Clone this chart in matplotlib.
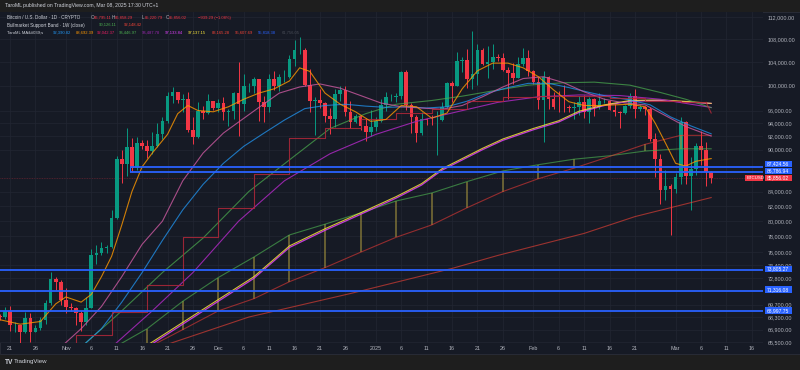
import numpy as np
import pandas as pd
import matplotlib
matplotlib.use("Agg")
import matplotlib.pyplot as plt
import matplotlib.dates as mdates
from matplotlib.patches import Rectangle
from matplotlib.ticker import FixedLocator, NullLocator, FuncFormatter

plt.rcParams['font.family'] = ['Liberation Sans', 'DejaVu Sans']

# daily BTCUSD candles, Oct 19 2024 .. Mar 08 2025 (values in thousands USD)
start = pd.Timestamp("2024-10-19")
dates = pd.date_range(start, "2025-03-08", freq="D")

opens = [68.39, 68.36, 69.00, 67.37, 67.38, 66.68, 68.17, 66.63, 67.03, 67.95, 69.90, 72.72, 72.34,
         70.29, 69.49, 69.37, 68.75, 67.80, 69.36, 75.60, 75.90, 76.54, 76.68, 80.37, 88.70, 87.95, 90.40,
         87.30, 91.06, 90.60, 89.85, 90.50, 92.30, 94.30, 98.38, 98.90, 97.75, 97.90, 93.00, 91.95, 95.95,
         95.65, 97.46,
         96.40, 97.20, 95.84, 96.00, 98.75, 97.00, 99.90, 99.90, 101.17, 97.40, 96.60, 101.15, 100.00,
         101.40, 101.40, 104.45, 106.05, 106.14, 100.20, 97.46, 97.75, 97.20, 95.10, 94.70, 98.70, 99.30,
         95.80, 94.27, 95.16, 93.53, 92.60,
         93.43, 94.40, 96.90, 98.14, 98.20, 98.36, 102.24, 96.95, 95.04, 92.50, 94.70, 94.56, 94.50, 94.50,
         96.50, 100.50, 99.98, 104.10, 104.40, 101.10, 102.00, 106.15, 103.65, 104.00, 104.80, 104.70,
         102.60, 102.10, 101.30, 103.70, 104.70,
         102.40, 100.65, 97.69, 101.40, 97.87, 96.60, 96.55, 96.50, 96.45, 96.50, 97.40, 95.75, 97.87,
         96.60, 97.50, 97.57, 96.12, 95.77, 95.54, 96.65, 98.33, 96.20, 96.55, 96.26, 91.55, 88.70, 84.25,
         84.70,
         84.35, 86.05, 94.27, 86.12, 87.20, 90.60, 89.96, 86.795]
highs = [68.67, 69.40, 69.50, 67.80, 67.45, 68.85, 68.80, 67.45, 68.35, 70.20, 73.60, 72.95, 72.65,
         71.60, 69.90, 69.40, 69.00, 70.55, 76.40, 76.95, 77.25, 76.90, 81.50, 89.00, 89.95, 93.25, 91.80,
         91.85, 91.50, 91.50, 92.65, 94.00, 94.95, 99.00, 99.80, 99.00, 98.70, 98.90, 94.95, 97.30, 96.65,
         98.70, 97.50,
         97.85, 98.15, 96.30, 99.00, 104.00, 101.90, 100.50, 101.40, 101.20, 98.30, 101.90, 102.50, 101.90,
         102.60, 105.20, 107.80, 108.30, 106.50, 102.80, 98.10, 99.50, 97.40, 96.40, 99.40, 99.95, 99.90,
         97.50, 95.50, 95.20, 94.90, 96.10,
         94.95, 97.80, 98.95, 98.70, 98.80, 102.50, 102.70, 97.20, 95.35, 95.80, 94.90, 95.35, 95.90, 97.35,
         100.70, 100.85, 105.80, 104.90, 106.30, 109.40, 107.10, 106.40, 106.85, 107.10, 105.30, 105.50,
         103.20, 103.80, 104.80, 106.45, 106.10,
         102.70, 101.50, 102.50, 101.70, 99.00, 99.20, 100.10, 96.90, 97.30, 98.30, 98.50, 98.10, 98.00,
         98.80, 97.95, 97.70, 97.00, 96.00, 96.90, 98.75, 99.50, 96.90, 96.65, 96.50, 92.50, 89.30, 87.00,
         85.10,
         86.55, 95.00, 94.40, 88.90, 91.00, 92.80, 91.20, 86.858]
lows = [68.00, 68.10, 66.80, 66.60, 65.25, 66.56, 65.55, 66.60, 66.90, 67.50, 69.70, 71.45, 69.70,
        68.80, 68.95, 67.45, 66.80, 67.45, 69.30, 74.50, 75.60, 75.85, 76.50, 80.25, 85.20, 86.20, 86.70,
        87.10, 90.10, 88.80, 89.30, 90.40, 91.60, 94.10, 97.20, 97.25, 95.80, 92.60, 90.80, 91.75, 94.65,
        95.40, 96.10,
        95.70, 94.50, 93.60, 94.70, 92.00, 95.90, 98.90, 98.80, 94.30, 94.25, 95.70, 99.30, 99.20,
        100.70, 101.25, 103.30, 105.30, 100.00, 95.70, 92.20, 96.40, 94.20, 92.40, 93.40, 97.60, 95.20,
        93.30, 94.10, 93.00, 91.30, 92.00,
        92.80, 94.20, 96.00, 97.50, 97.30, 97.90, 96.15, 92.50, 91.20, 92.20, 93.80, 93.70, 89.25, 94.30,
        96.45, 97.30, 99.90, 102.30, 99.60, 99.50, 100.10, 103.40, 101.25, 102.80, 104.15, 102.50,
        97.80, 100.30, 101.30, 103.30, 101.60,
        100.30, 96.20, 91.20, 96.20, 96.20, 95.70, 95.70, 95.70, 94.70, 95.30, 94.90, 94.10, 95.20,
        96.30, 97.25, 96.05, 95.20, 93.35, 95.40, 96.40, 94.85, 96.00, 95.25, 91.30, 86.05, 82.25, 82.80,
        78.25,
        83.80, 85.10, 85.10, 81.50, 86.30, 87.80, 84.70, 85.221]
closes = [68.36, 69.00, 67.37, 67.38, 66.68, 68.17, 66.63, 67.03, 67.95, 69.90, 72.72, 72.34, 70.29,
          69.49, 69.37, 68.75, 67.80, 69.36, 75.60, 75.90, 76.54, 76.68, 80.37, 88.70, 87.95, 90.40, 87.30,
          91.06, 90.60, 89.85, 90.50, 92.30, 94.30, 98.38, 98.90, 97.75, 97.90, 93.00, 91.95, 95.95, 95.65,
          97.46, 96.40,
          97.20, 95.84, 96.00, 98.75, 97.00, 99.90, 99.92, 101.17, 97.40, 96.60, 101.15, 100.00, 101.40,
          101.42, 104.45, 106.05, 106.14, 100.20, 97.46, 97.75, 97.20, 95.10, 94.70, 98.70, 99.30, 95.80,
          94.27, 95.16, 93.53, 92.60, 93.43,
          94.40, 96.90, 98.14, 98.20, 98.36, 102.24, 96.95, 95.04, 92.50, 94.70, 94.56, 94.50, 94.52,
          96.50, 100.50, 99.98, 104.10, 104.40, 101.10, 102.00, 106.15, 103.65, 104.00, 104.80, 104.70,
          102.60, 102.10, 101.30, 103.70, 104.70, 102.40,
          100.65, 97.69, 101.40, 97.87, 96.60, 96.55, 96.50, 96.45, 96.50, 97.40, 95.75, 97.87, 96.60,
          97.50, 97.57, 96.12, 95.77, 95.54, 96.65, 98.33, 96.20, 96.55, 96.26, 91.55, 88.70, 84.25, 84.70,
          84.35,
          86.05, 94.27, 86.12, 87.20, 90.60, 89.96, 86.75, 85.856]

# moving averages (day offset from Oct 19, value)
orange_day = [0, 4, 8, 11, 13, 16, 18, 20, 22, 24, 26, 28, 30, 33, 35, 37, 39, 42, 45, 48, 51, 54, 57,
              59, 61, 64, 67, 70, 73, 76, 79, 82, 85, 88, 91, 94, 97, 100, 103, 106, 109, 112, 115, 118,
              121, 124, 127, 129, 131, 133, 135, 137, 140]
orange_val = [68.0, 67.5, 67.8, 69.8, 70.6, 70.0, 70.9, 73.0, 75.5, 79.5, 84.0, 87.5, 89.5, 92.3, 95.5,
              96.8, 96.0, 95.8, 96.6, 97.8, 98.8, 99.5, 100.8, 103.0, 102.4, 98.8, 97.0, 95.8, 94.3, 94.6,
              96.8, 96.6, 94.8, 95.6, 99.5, 102.5, 103.8, 103.8, 103.0, 101.5, 99.3, 97.4, 96.8, 96.8,
              96.9, 97.0, 96.6, 94.0, 91.0, 88.0, 87.6, 88.3, 88.69]
pink_day = [12, 16, 20, 24, 28, 32, 36, 40, 44, 47, 51, 55, 59, 63, 67, 71, 75, 79, 83, 87, 91, 95, 99,
            103, 107, 111, 115, 119, 123, 127, 131, 135, 140]
pink_val = [65.0, 67.0, 69.5, 73.0, 77.0, 80.0, 85.5, 89.5, 92.5, 94.2, 96.5, 98.8, 99.8, 100.3, 99.6,
            98.4, 97.2, 96.6, 96.4, 96.2, 96.8, 98.2, 99.8, 101.2, 101.5, 100.5, 99.0, 97.8, 97.2, 96.9,
            95.2, 93.5, 92.04]
blue_day = [16, 20, 24, 28, 32, 36, 40, 44, 48, 52, 56, 60, 64, 68, 72, 76, 80, 84, 88, 92, 96, 100,
            104, 108, 112, 116, 120, 124, 128, 132, 136, 140]
blue_val = [65.0, 67.0, 70.0, 73.5, 77.5, 81.5, 85.0, 88.0, 90.5, 92.5, 94.5, 96.3, 96.8, 97.0, 96.7,
            96.5, 96.6, 96.4, 96.6, 97.5, 98.8, 99.7, 100.4, 100.4, 99.7, 98.9, 98.2, 97.7, 96.9, 95.0,
            93.6, 92.39]
green_day = [16, 24, 32, 40, 44, 49, 57, 65, 72, 78, 85, 91, 98, 104, 111, 117, 124, 130, 135, 140]
green_val = [65.0, 69.0, 73.5, 77.8, 80.5, 84.0, 88.5, 93.2, 95.5, 97.0, 97.6, 98.3, 99.3, 100.1, 100.5,
             100.6, 100.1, 98.9, 97.8, 96.45]
purple_day = [22, 30, 38, 47, 56, 65, 74, 82, 90, 98, 106, 114, 122, 130, 136, 140]
purple_val = [65.0, 69.0, 73.5, 80.0, 85.5, 89.4, 92.3, 94.3, 95.8, 97.3, 98.2, 98.5, 98.4, 97.8, 97.0,
              96.49]
magenta_day = [29, 50, 57, 64, 71, 78, 83, 87, 95, 99, 105, 110, 114, 119, 124, 130, 136, 140]
magenta_val = [65.0, 72.8, 76.6, 78.8, 80.9, 83.1, 84.9, 87.0, 90.0, 91.4, 93.0, 94.2, 95.7, 96.8, 97.5,
               97.6, 97.3, 97.13]
yellow_val = [65.2, 73.0, 76.8, 79.0, 81.1, 83.3, 85.1, 87.2, 90.2, 91.6, 93.2, 94.4, 95.9, 96.9, 97.6,
              97.7, 97.4, 97.14]
red200_day = [33, 49, 69, 89, 98, 115, 125, 140]
red200_val = [65.3, 68.3, 71.0, 74.0, 75.6, 78.4, 80.6, 83.17]

# weekly step MA
step_day = [8, 15, 22, 29, 36, 43, 50, 57, 64, 71, 78, 85, 92, 99, 106, 113, 120, 127, 134, 139]
step_val = [63.8, 66.3, 68.9, 72.0, 77.9, 81.7, 86.4, 91.8, 93.3, 94.6, 95.6, 96.3, 97.5, 98.2, 98.4,
            98.3, 98.0, 97.6, 97.3, 97.3]
step_last = 95.61

# Bullmarket Support Band (1W)
band_day = [22, 29, 36, 43, 50, 57, 64, 71, 78, 85, 92, 99, 106, 113, 120, 127, 134, 140]
band_green = [64.8, 67.0, 70.1, 72.9, 75.4, 78.2, 79.6, 81.1, 82.7, 83.8, 85.4, 86.9, 87.8, 88.6, 89.1,
              89.8, 90.13, 90.13]
band_red = [62.5, 64.9, 66.9, 69.0, 70.4, 72.4, 74.1, 76.0, 77.9, 79.5, 81.8, 84.0, 85.8, 87.3, 89.0,
            90.8, 92.15, 92.15]

# horizontal levels
zone_levels = [87.42456, 86.78694]
zone_start_day = 25.6
levels = [73.80527, 71.31608, 68.99775]
last_price = 85.85602

y_ticks = [112, 108, 104, 100, 96, 94, 92, 90, 84, 82, 80, 78, 76, 74.4, 72.8, 69.7, 68.3, 66.9, 65.5]
x_tick_day = [2, 7, 13, 18, 23, 28, 33, 38, 43, 48, 53, 58, 63, 68, 74, 79, 84, 89, 94, 99, 105, 110,
              115, 120, 125, 133, 138, 143, 148]
x_tick_lab = ["21", "26", "Nov", "6", "11", "16", "21", "26", "Dec", "6", "11", "16", "21", "26", "2025",
              "6", "11", "16", "21", "26", "Feb", "6", "11", "16", "21", "Mar", "6", "11", "16"]


def to_x(days):
    return mdates.date2num(start + pd.to_timedelta(np.asarray(days, dtype=float), unit="D"))


W, H = 800, 370
BG = '#161a25'
TXT = '#b2b5be'
UP, DOWN = '#089981', '#f23645'

fig = plt.figure(figsize=(8, 3.7), dpi=100)
fig.patch.set_facecolor('#1e1e1e')
fig.patches.append(Rectangle((0, (H - 354) / H), 1, (354 - 12) / H, transform=fig.transFigure,
                             facecolor=BG, edgecolor='#2a2e39', lw=0.6, zorder=-5))

ax = fig.add_axes([0, (H - 343) / H, 763 / W, (343 - 12) / H])
ax.set_facecolor(BG)
ax.set_yscale('log')

# candles
x = mdates.date2num(dates)
o, h, l, c = map(np.array, (opens, highs, lows, closes))
col = np.where(c >= o, UP, DOWN)
ax.vlines(x, l, h, colors=col, lw=0.7, zorder=2)
body_lo = np.minimum(o, c)
body_h = np.maximum(np.abs(c - o), 0.06)
ax.bar(x, body_h, bottom=body_lo, width=0.72, color=col, zorder=2.1)

# band with weekly ticks
bx = to_x(band_day)
ax.plot(bx, band_green, color='#4caf50', lw=0.8, alpha=0.65, zorder=3)
ax.plot(bx, band_red, color='#e53935', lw=0.8, alpha=0.6, zorder=3)
ax.vlines(bx[1:-1], band_red[1:-1], band_green[1:-1], colors='#a08f3c', lw=1.1, alpha=0.75, zorder=2.9)

# moving averages
ax.plot(to_x(red200_day), red200_val, color='#f44336', lw=0.8, alpha=0.6, zorder=3)
ax.plot(to_x(magenta_day), magenta_val, color='#e040fb', lw=0.9, alpha=0.85, zorder=3)
ax.plot(to_x(magenta_day), yellow_val, color='#ffeb3b', lw=0.8, alpha=0.8, zorder=3)
ax.plot(to_x(purple_day), purple_val, color='#9c27b0', lw=0.8, alpha=0.95, zorder=3)
ax.plot(to_x(green_day), green_val, color='#4caf50', lw=0.8, alpha=0.7, zorder=3)
ax.plot(to_x(blue_day), blue_val, color='#2196f3', lw=0.8, alpha=0.75, zorder=3)
ax.plot(to_x(pink_day), pink_val, color='#c2569a', lw=0.8, alpha=0.85, zorder=3)
ax.plot(to_x(orange_day), orange_val, color='#ff9800', lw=0.8, alpha=0.8, zorder=3.2)
sx = to_x(step_day)
ax.step(sx, step_val, where='post', color='#b2283a', lw=0.8, alpha=0.85, zorder=3)
ax.plot([sx[-1], to_x([140])[0]], [step_val[-1], step_last], color='#b2283a', lw=0.8, alpha=0.85, zorder=3)

# horizontal levels
x0, x1 = to_x([0.03])[0], to_x([150.2])[0]
zx = to_x([zone_start_day])[0]
ax.hlines(zone_levels, zx, x1, colors='#2962ff', lw=1.3, zorder=4)
ax.vlines(zx, zone_levels[1], zone_levels[0], colors='#2962ff', lw=0.8, zorder=4)
ax.hlines(levels, x0, x1, colors='#2962ff', lw=1.3, zorder=4)
ax.axhline(last_price, color=DOWN, lw=0.6, alpha=0.35, ls=(0, (1, 1)), zorder=1.5)

ax.set_xlim(x0, x1)
ax.set_ylim(65.44, 112.93)

ax.yaxis.tick_right()
ax.yaxis.set_major_locator(FixedLocator(y_ticks))
ax.yaxis.set_minor_locator(NullLocator())
ax.yaxis.set_major_formatter(FuncFormatter(lambda v, p: f"{v * 1000:,.2f}"))
ax.set_xticks(to_x(x_tick_day))
ax.set_xticklabels(x_tick_lab)
ax.xaxis.set_minor_locator(NullLocator())
ax.tick_params(axis='y', length=0, pad=3.6, labelsize=3.9, colors=TXT)
ax.tick_params(axis='x', length=0, pad=2.4, labelsize=3.9, colors=TXT)
ax.grid(True, color='#222633', lw=0.5, zorder=0)
for s in ax.spines.values():
    s.set_visible(False)


def ftext(px, py, s, **kw):
    kw.setdefault('fontsize', 3.3)
    kw.setdefault('va', 'center')
    fig.text(px / W, 1 - py / H, s, **kw)


def fbox(px, py, w, h, color):
    fig.patches.append(Rectangle((px / W, 1 - (py + h / 2) / H), w / W, h / H, transform=fig.transFigure,
                                 facecolor=color, edgecolor='none', zorder=5))


# price labels on the axis
for val, py, colr in [(87424.56, 164, '#2962ff'), (86786.94, 171, '#2962ff'), (85856.02, 178, DOWN),
                      (73805.27, 268.8, '#2962ff'), (71316.08, 289.5, '#2962ff'), (68997.75, 310.5, '#2962ff')]:
    fbox(765, py, 27, 6.6, colr)
    ftext(767, py, f"{val:,.2f}", color='white', fontsize=3.6, zorder=6)
fbox(745, 178, 18, 6.6, DOWN)
ftext(747, 178, "BTCUSD", color='white', fontsize=3.2, zorder=6)

# header and legend
ftext(5, 6, "TaroML published on TradingView.com, Mar 08, 2025 17:30 UTC+1", color='#d1d4dc', fontsize=3.7)
ftext(7, 17.5, "Bitcoin / U.S. Dollar · 1D · CRYPTO", color='#d1d4dc')
for px, lab, val in [(90.7, "O", "86,795.11"), (112, "H", "86,858.29"), (141.7, "L", "85,220.79"),
                     (165.7, "C", "85,856.02")]:
    ftext(px, 17.5, lab, color=TXT)
    ftext(px + 3.3, 17.5, val, color=DOWN, fontsize=3.0)
ftext(197.7, 17.5, "−939.29 (−1.08%)", color=DOWN, fontsize=3.0)
ftext(7, 25, "Bullmarket Support Band · 1W (close)", color='#d1d4dc')
ftext(99, 25, "90,126.11", color='#4caf50', fontsize=3.0)
ftext(124, 25, "92,148.42", color='#f44336', fontsize=3.0)
ftext(7, 32.5, "TaroML MA&#039;s", color='#d1d4dc', fontsize=3.0)
for px, val, colr in [(53, "92,390.82", '#2196f3'), (76, "88,692.39", '#ff9800'), (97, "92,042.37", '#e91e63'),
                      (119, "96,446.97", '#4caf50'), (142, "96,487.78", '#9c27b0'), (165, "97,133.84", '#e040fb'),
                      (188, "97,137.15", '#ffeb3b'), (212, "83,165.28", '#f44336'), (235, "95,607.69", '#f44336'),
                      (258, "55,818.38", '#2962ff'), (282, "61,756.05", '#4a4e58')]:
    ftext(px, 32.5, val, color=colr, fontsize=3.0)

# footer logo
ftext(5, 362, "TV", color='#d1d4dc', fontsize=4.8, fontweight='bold')
ftext(14, 362, "TradingView", color='#d1d4dc', fontsize=4.4)

fig.savefig("out.png", dpi=100, facecolor=fig.get_facecolor())
